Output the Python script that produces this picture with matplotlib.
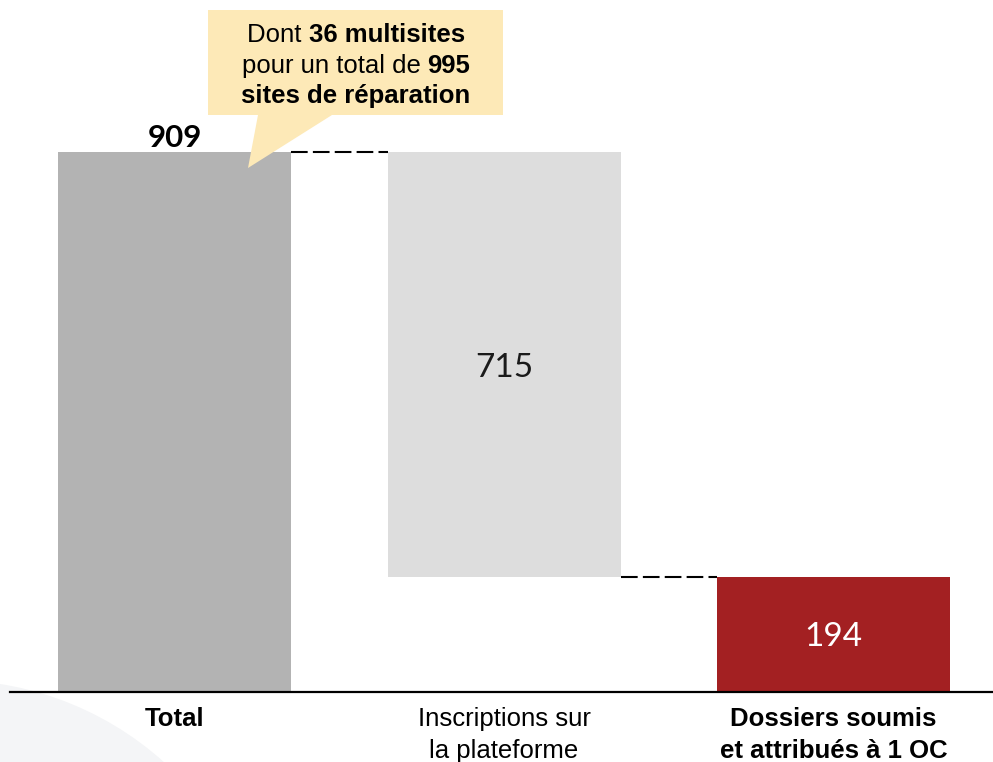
import matplotlib
matplotlib.use("Agg")
import matplotlib.pyplot as plt
from matplotlib.patches import Circle, Polygon

categories = ["Total", "Inscriptions sur\nla plateforme", "Dossiers soumis\net attribués à 1 OC"]
values = [909, 715, 194]
bar_colors = ["#b3b3b3", "#dddddd", "#a32022"]
label_bold = [True, False, True]
callout_lines = [
    [("Dont ", False), ("36 multisites", True)],
    [("pour un total de ", False), ("995", True)],
    [("sites de réparation", True)],
]

# waterfall bottoms
bottoms = [0, values[0] - values[1], 0]

W, H = 993, 762
fig = plt.figure(figsize=(W / 100, H / 100), dpi=100)
fig.patch.set_facecolor("white")

# background watermark arc
fig.patches.append(Circle((-50, H - 1000), 320, transform=None, facecolor="#f4f5f7",
                          edgecolor="none", zorder=-1))

ax = fig.add_axes([0, 70 / H, 1, 692 / H])
ax.set_facecolor("none")
scale = 540 / 909
ax.set_ylim(0, 692 / scale)
ax.set_xlim((0 - 174.5) / 329.5, (993 - 174.5) / 329.5)
ax.axis("off")

x = list(range(len(values)))
width = 233 / 329.5
bars = ax.bar(x, values, bottom=bottoms, width=width, color=bar_colors, zorder=2)

# baseline
ax.axhline(0, xmin=10 / 993, xmax=1, color="black", lw=1.6, zorder=3, clip_on=False)

# connectors
ax.plot([x[0] + width / 2, x[1] - width / 2], [values[0], values[0]], color="black",
        lw=1.5, dashes=(8, 2.5), zorder=3)
ax.plot([x[1] + width / 2, x[2] - width / 2], [bottoms[1], bottoms[1]], color="black",
        lw=1.5, dashes=(8, 2.5), zorder=3)

numfont = "Lato"
# value labels
ax.text(x[0], values[0] + 5 / scale, f"{values[0]}", ha="center", va="baseline",
        fontsize=22.5, fontweight="bold", family=numfont, zorder=4)
mid1 = bottoms[1] + values[1] / 2
ax.text(x[1], mid1 - 13 / scale, f"{values[1]}", ha="center", va="baseline",
        fontsize=24, fontweight="normal", family=numfont, color="#1a1a1a", zorder=4)
mid2 = values[2] / 2
ax.text(x[2], mid2 - 12 / scale, f"{values[2]}", ha="center", va="baseline",
        fontsize=24, fontweight="normal", family=numfont, color="white", zorder=4)

# category labels
for xi, lab, b in zip(x, categories, label_bold):
    ax.text(xi, -15 / scale, lab, ha="center", va="top", fontsize=18.5,
            family="Liberation Sans", fontweight="bold" if b else "normal",
            linespacing=1.4, zorder=4)

# callout (pixel coordinates from top-left)
def px(xp, yp):
    return (xp, H - yp)

box = Polygon([px(208, 10), px(503, 10), px(503, 115), px(332, 115), px(248, 168),
               px(258, 115), px(208, 115)], closed=True, transform=None,
              facecolor="#fde9b7", edgecolor="none", zorder=5)
fig.patches.append(box)

renderer = fig.canvas.get_renderer()
line_y = [42, 73, 103]
cx = 356
for segs, yl in zip(callout_lines, line_y):
    texts = []
    for s, b in segs:
        t = fig.text(0, 0, s, fontsize=18.5, family="Liberation Sans",
                     fontweight="bold" if b else "normal", va="baseline", ha="left",
                     transform=None, zorder=6)
        texts.append(t)
    widths = [t.get_window_extent(renderer).width for t in texts]
    total = sum(widths)
    xs = cx - total / 2
    for t, w in zip(texts, widths):
        t.set_position(px(xs, yl))
        xs += w

fig.savefig("out.png", dpi=100)
